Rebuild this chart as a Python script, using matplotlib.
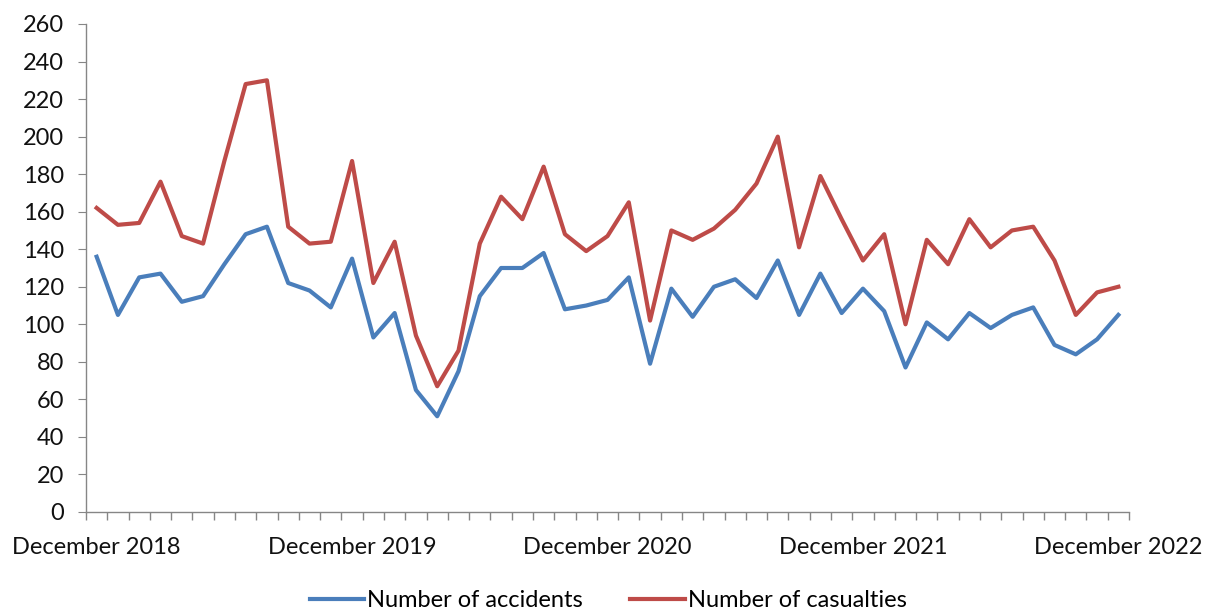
import matplotlib
matplotlib.use("Agg")
import matplotlib.pyplot as plt
import numpy as np

months = 49  # December 2018 .. December 2022
tick_labels = ["December 2018", "December 2019", "December 2020", "December 2021", "December 2022"]
label_positions = [0, 12, 24, 36, 48]

accidents = [136, 105, 125, 127, 112, 115, 132, 148, 152, 122, 118, 109, 135, 93, 106,
             65, 51, 75, 115, 130, 130, 138, 108, 110, 113, 125, 79, 119, 104, 120,
             124, 114, 134, 105, 127, 106, 119, 107, 77, 101, 92, 106, 98, 105, 109,
             89, 84, 92, 105]
casualties = [162, 153, 154, 176, 147, 143, 187, 228, 230, 152, 143, 144, 187, 122, 144,
              94, 67, 86, 143, 168, 156, 184, 148, 139, 147, 165, 102, 150, 145, 151,
              161, 175, 200, 141, 179, 156, 134, 148, 100, 145, 132, 156, 141, 150, 152,
              134, 105, 117, 120]

plt.rcParams['font.family'] = ['Lato', 'DejaVu Sans']

fig = plt.figure(figsize=(12.07, 6.13), dpi=100)
ax = fig.add_axes([86/1207, 1-512/613, (1129-86)/1207, (512-24)/613])

x = np.arange(months)
ax.plot(x, accidents, color="#4A7EBB", lw=3.0, label="Number of accidents", solid_joinstyle='round')
ax.plot(x, casualties, color="#BE4B48", lw=3.0, label="Number of casualties", solid_joinstyle='round')

ax.set_xlim(-0.5, months - 0.5)
ax.set_ylim(0, 260)
ax.set_yticks(np.arange(0, 261, 20))
ax.tick_params(axis='y', labelsize=17, length=6, color="#868686", labelcolor="#111111", pad=10)

ax.set_xticks(label_positions)
ax.set_xticklabels(tick_labels)
ax.tick_params(axis='x', which='major', length=0, labelsize=17, labelcolor="#111111", pad=18)
ax.set_xticks(np.arange(-0.5, months, 1), minor=True)
ax.tick_params(axis='x', which='minor', length=6, color="#868686", width=1)

for s in ['top', 'right']:
    ax.spines[s].set_visible(False)
for s in ['left', 'bottom']:
    ax.spines[s].set_color("#868686")
    ax.spines[s].set_linewidth(1)

leg = fig.legend(loc='center', bbox_to_anchor=(0.504, 0.02), ncol=2, frameon=False,
                 fontsize=17, handlelength=2.3, handletextpad=0.15, columnspacing=2.0)

fig.savefig("out.png", dpi=100)
